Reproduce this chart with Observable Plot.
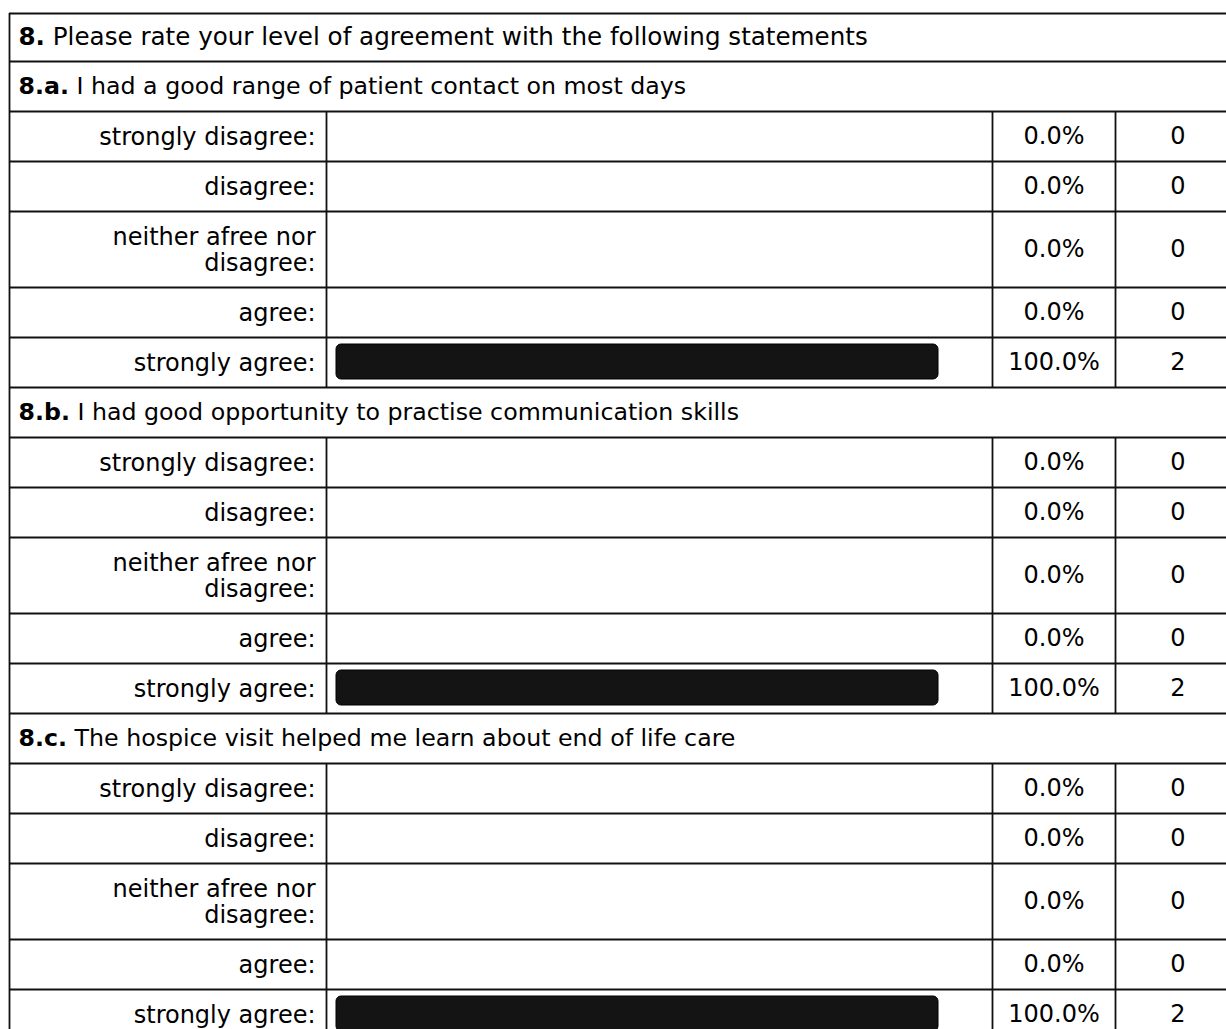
<!DOCTYPE html>
<html>
<head>
<meta charset="utf-8">
<script src="https://cdn.jsdelivr.net/npm/d3@7"></script>
<script src="https://cdn.jsdelivr.net/npm/@observablehq/plot@0.6"></script>
<style>
  html, body { margin: 0; padding: 0; background: #ffffff; }
  #chart svg { display: block; }
</style>
</head>
<body>
<div id="chart"></div>
<script>
// ---------------- data ----------------
const questionNumber = "8.";
const questionText = "Please rate your level of agreement with the following statements";
const statementIds = ["8.a.", "8.b.", "8.c."];
const statementTexts = [
  "I had a good range of patient contact on most days",
  "I had good opportunity to practise communication skills",
  "The hospice visit helped me learn about end of life care"
];
const responseOptions = ["strongly disagree:", "disagree:", "neither afree nor disagree:", "agree:", "strongly agree:"];
const percentA = [0.0, 0.0, 0.0, 0.0, 100.0];
const percentB = [0.0, 0.0, 0.0, 0.0, 100.0];
const percentC = [0.0, 0.0, 0.0, 0.0, 100.0];
const countA = [0, 0, 0, 0, 2];
const countB = [0, 0, 0, 0, 2];
const countC = [0, 0, 0, 0, 2];

// ---------------- layout ----------------
const W = 1226, H = 1029;
const FONT = '"DejaVu Sans", Verdana, sans-serif';
const FS = 24;          // body text size
const FS_QUESTION = 24.6;
const FS_STATEMENT = 23.7;
const tableLeft = 9, tableTop = 13;
const barLeft = 336, barRight = 938;
const labelColRight = 326, pctColRight = 992, countColRight = 1115, countColEnd = 1240;
const questionH = 48, rowH = 50, extraLineH = 26;
const textLeft = 18;

const ctx = document.createElement("canvas").getContext("2d");
function measure(str, weight, size) {
  ctx.font = `${weight || "normal"} ${size || FS}px "DejaVu Sans"`;
  return ctx.measureText(str).width;
}
const labelMaxW = (labelColRight - tableLeft) - 2 * 8;
function wrap(str) {
  const words = str.split(" ");
  const lines = [];
  let cur = "";
  for (const w of words) {
    const t = cur ? cur + " " + w : w;
    if (cur && measure(t) > labelMaxW) { lines.push(cur); cur = w; } else cur = t;
  }
  lines.push(cur);
  return lines.join("\n");
}

const percents = [percentA, percentB, percentC];
const counts = [countA, countB, countC];

const headerRows = [];
const optionRows = [];
const sectionSpans = [];
let yy = tableTop;
headerRows.push({prefix: questionNumber, text: questionText, size: FS_QUESTION, y1: yy, y2: yy + questionH});
yy += questionH;
statementIds.forEach((id, i) => {
  headerRows.push({prefix: id, text: statementTexts[i], size: FS_STATEMENT, y1: yy, y2: yy + rowH});
  yy += rowH;
  const start = yy;
  responseOptions.forEach((opt, j) => {
    const label = wrap(opt);
    const lines = label.split("\n").length;
    const h = rowH + (lines - 1) * extraLineH;
    optionRows.push({label, percent: percents[i][j], count: counts[i][j], y1: yy, y2: yy + h});
    yy += h;
  });
  sectionSpans.push({y1: start, y2: yy});
});

const boundaries = [...headerRows.map(d => d.y1), ...optionRows.map(d => d.y1), yy];
headerRows.forEach(d => { d.prefixW = measure(d.prefix, "bold", d.size) + measure(" ", "normal", d.size); });

const xDomain = [0, 100];
const xRange = [barLeft, barRight];
const xs = Plot.scale({x: {domain: xDomain, range: xRange}});
const LINE = "#111";
const LW = 1.8;

const plot = Plot.plot({
  width: W,
  height: H,
  marginLeft: 0, marginRight: 0, marginTop: 0, marginBottom: 0,
  style: {fontFamily: FONT, fontSize: FS + "px", color: "#000", background: "#fff"},
  x: {domain: xDomain, range: xRange, axis: null},
  y: {type: "identity", axis: null},
  marks: [
    // bars
    Plot.rect(optionRows.filter(d => d.percent > 0), {
      x1: 0, x2: "percent",
      y1: d => d.y1 + 7, y2: d => d.y2 - 8,
      rx: 5, fill: "#141414", stroke: "#000", strokeWidth: 1
    }),
    // horizontal grid lines
    Plot.ruleY(boundaries, {x1: xs.invert(tableLeft), x2: xs.invert(W + 20), stroke: LINE, strokeWidth: LW}),
    // left border
    Plot.ruleX([xs.invert(tableLeft)], {y1: tableTop, y2: H + 20, stroke: LINE, strokeWidth: LW}),
    // column separators within each section
    Plot.ruleX(sectionSpans, {x: () => xs.invert(labelColRight), y1: "y1", y2: "y2", stroke: LINE, strokeWidth: LW}),
    Plot.ruleX(sectionSpans, {x: () => xs.invert(pctColRight), y1: "y1", y2: "y2", stroke: LINE, strokeWidth: LW}),
    Plot.ruleX(sectionSpans, {x: () => xs.invert(countColRight), y1: "y1", y2: "y2", stroke: LINE, strokeWidth: LW}),
    // question header
    Plot.text(headerRows.slice(0, 1), {
      x: () => xs.invert(textLeft), y: d => (d.y1 + d.y2) / 2, text: "prefix",
      textAnchor: "start", fontWeight: "bold", fontSize: FS_QUESTION, fill: "#000"
    }),
    Plot.text(headerRows.slice(0, 1), {
      x: d => xs.invert(textLeft + d.prefixW), y: d => (d.y1 + d.y2) / 2, text: "text",
      textAnchor: "start", fontSize: FS_QUESTION, fill: "#000"
    }),
    // statement headers
    Plot.text(headerRows.slice(1), {
      x: () => xs.invert(textLeft), y: d => (d.y1 + d.y2) / 2, text: "prefix",
      textAnchor: "start", fontWeight: "bold", fontSize: FS_STATEMENT, fill: "#000"
    }),
    Plot.text(headerRows.slice(1), {
      x: d => xs.invert(textLeft + d.prefixW), y: d => (d.y1 + d.y2) / 2, text: "text",
      textAnchor: "start", fontSize: FS_STATEMENT, fill: "#000"
    }),
    // option labels
    Plot.text(optionRows, {
      x: () => xs.invert(labelColRight - 11), y: d => (d.y1 + d.y2) / 2, text: "label",
      textAnchor: "end", lineHeight: 1.1, fontSize: FS, fill: "#000"
    }),
    // percentages
    Plot.text(optionRows, {
      x: () => xs.invert((pctColRight + countColRight) / 2), y: d => (d.y1 + d.y2) / 2,
      text: d => d.percent.toFixed(1) + "%", textAnchor: "middle", fontSize: FS, fill: "#000"
    }),
    // counts
    Plot.text(optionRows, {
      x: () => xs.invert((countColRight + countColEnd) / 2), y: d => (d.y1 + d.y2) / 2,
      text: d => String(d.count), textAnchor: "middle", fontSize: FS, fill: "#000"
    })
  ]
});
document.getElementById("chart").appendChild(plot);
</script>
</body>
</html>
